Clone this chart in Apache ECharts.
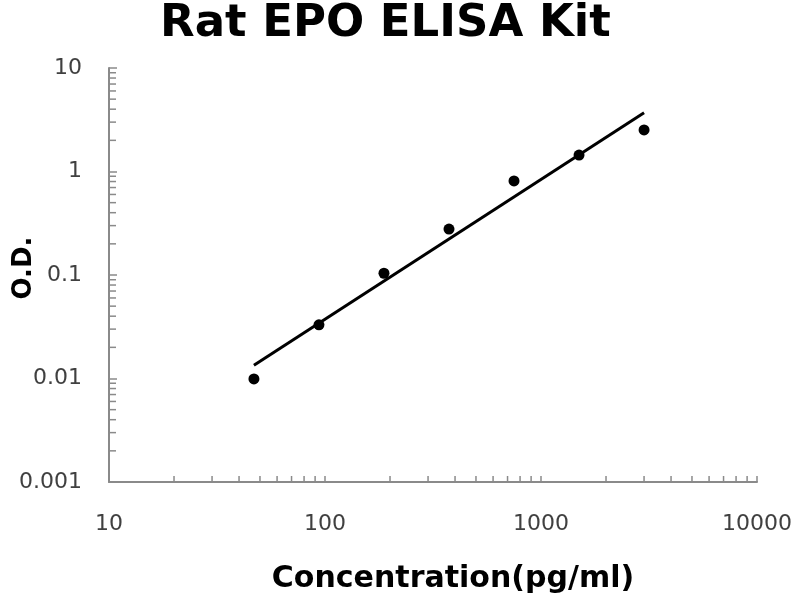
<!DOCTYPE html>
<html>
<head>
<meta charset="utf-8">
<script src="https://cdn.jsdelivr.net/npm/echarts@6/dist/echarts.min.js"></script>
<style>html,body{margin:0;padding:0;background:#fff}#c{width:800px;height:600px}</style>
</head>
<body>
<div id="c"></div>
<script>
// Data
const concentration = [46.875, 93.75, 187.5, 375, 750, 1500, 3000];
const od = [0.0099, 0.033, 0.104, 0.278, 0.81, 1.44, 2.52];
// Trend line end points
const fitX = [46.875, 3000];
const fitY = [0.0134, 3.7];
// Minor tick positions on the log axes
const xMinorTicks = [20,30,40,50,60,70,80,90,200,300,400,500,600,700,800,900,2000,3000,4000,5000,6000,7000,8000,9000];
const yMinorTicks = [0.002,0.003,0.004,0.005,0.006,0.007,0.008,0.009,0.02,0.03,0.04,0.05,0.06,0.07,0.08,0.09,0.2,0.3,0.4,0.5,0.6,0.7,0.8,0.9,2,3,4,5,6,7,8,9];
const xMin = 10, xMax = 10000, yMin = 0.001, yMax = 10;

const axisColor = '#8a8a8a';
const labelStyle = { fontFamily: 'DejaVu Sans', fontSize: 22, color: '#404040' };
const plain = v => String(+v.toPrecision(6));

const chart = echarts.init(document.getElementById('c'), null, { renderer: 'canvas' });
chart.setOption({
  animation: false,
  backgroundColor: '#fff',
  title: {
    text: 'Rat EPO ELISA Kit',
    left: 160, top: 2, padding: 0,
    textStyle: { fontFamily: 'DejaVu Sans', fontWeight: 'bold', fontSize: 45, color: '#000' }
  },
  grid: { left: 109, right: 43, top: 68, bottom: 118, containLabel: false, outerBoundsMode: 'none' },
  xAxis: {
    type: 'log', logBase: 10, min: xMin, max: xMax,
    name: 'Concentration(pg/ml)', nameLocation: 'middle', nameGap: 82,
    nameTextStyle: { fontFamily: 'DejaVu Sans', fontWeight: 'bold', fontSize: 30, color: '#000', padding: [0, 0, 0, 40] },
    axisLine: { show: true, lineStyle: { color: axisColor, width: 2 } },
    axisTick: { show: true, inside: true, length: 6, lineStyle: { color: axisColor, width: 1.5 } },
    axisLabel: Object.assign({ margin: 31, formatter: plain }, labelStyle),
    splitLine: { show: false }
  },
  yAxis: {
    type: 'log', logBase: 10, min: yMin, max: yMax,
    name: 'O.D.', nameLocation: 'middle', nameGap: 72, nameRotate: 90, nameMoveOverlap: false,
    nameTextStyle: { fontFamily: 'DejaVu Sans', fontWeight: 'bold', fontSize: 26, color: '#000', padding: [0, 0, 0, 14] },
    axisLine: { show: true, lineStyle: { color: axisColor, width: 2 } },
    axisTick: { show: true, inside: true, length: 8, lineStyle: { color: axisColor, width: 1.5 } },
    axisLabel: Object.assign({ margin: 27, formatter: plain }, labelStyle),
    splitLine: { show: false }
  },
  series: [
    {
      type: 'scatter', silent: true, clip: false, z: 1,
      symbol: 'rect', symbolSize: [1.5, 6], symbolOffset: [0, -3],
      itemStyle: { color: axisColor, opacity: 1 },
      data: xMinorTicks.map(v => [v, yMin])
    },
    {
      type: 'scatter', silent: true, clip: false, z: 1,
      symbol: 'rect', symbolSize: [7, 1.5], symbolOffset: [3.5, 0],
      itemStyle: { color: axisColor, opacity: 1 },
      data: yMinorTicks.map(v => [xMin, v])
    },
    {
      type: 'line', symbol: 'none', z: 3,
      lineStyle: { color: '#000', width: 3 },
      data: fitX.map((x, i) => [x, fitY[i]])
    },
    {
      type: 'scatter', z: 4, symbol: 'circle', symbolSize: 11,
      itemStyle: { color: '#000', opacity: 1 },
      data: concentration.map((x, i) => [x, od[i]])
    }
  ]
});
</script>
</body>
</html>
